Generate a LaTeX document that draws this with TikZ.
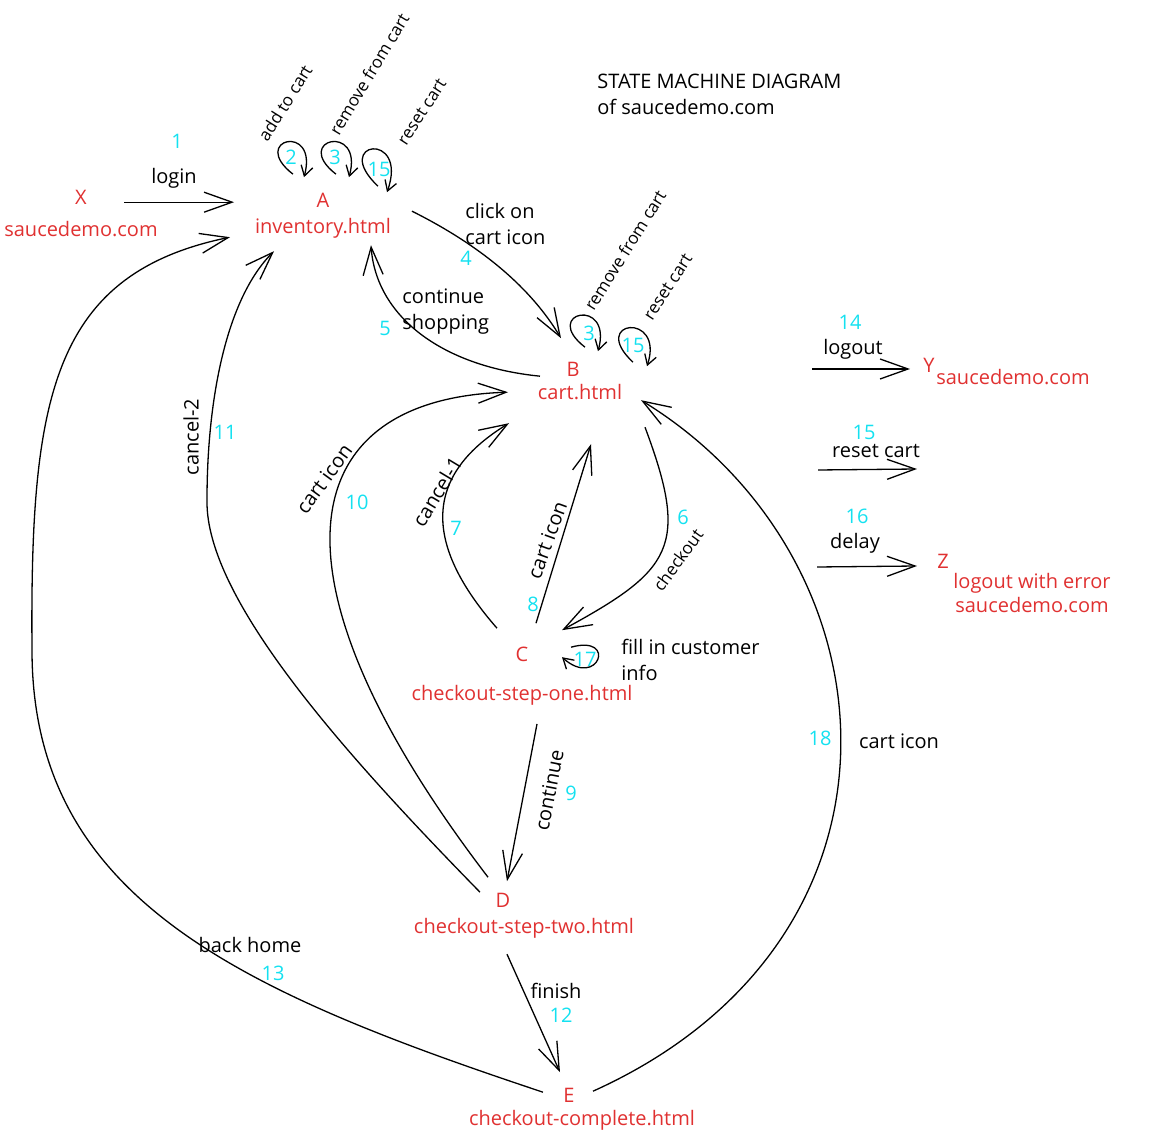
\documentclass[tikz,border=0pt]{standalone}
\usepackage{fontspec}
\setmainfont{Open Sans}
\usepackage{xcolor}
\usetikzlibrary{arrows.meta, positioning}

\definecolor{stred}{HTML}{E03131}
\definecolor{stcyan}{RGB}{20,225,240}

\begin{document}
\begin{tikzpicture}[x=0.5pt, y=-0.5pt,
    statebox/.style={text=stred, font=\fontsize{10}{12}\selectfont, inner sep=1pt, align=center},
    state/.style={statebox, text height=8pt, text depth=2.5pt},
    tag/.style={state},
    lbl/.style={font=\fontsize{10}{13}\selectfont, inner sep=1pt, align=left},
    small/.style={lbl, font=\fontsize{8.5}{10}\selectfont},
    num/.style={text=stcyan, font=\fontsize{10}{12}\selectfont, inner sep=1pt},
    arr/.style={-{Straight Barb[length=14pt, width=10pt]}, line width=0.65pt},
    selfarr/.style={-{Straight Barb[length=5pt, width=6pt]}, line width=0.65pt}]
    \useasboundingbox (0,0) rectangle (1152,1143);
    % Title
    \node[lbl, anchor=north west, inner sep=0pt] (title) at (597,74) {STATE MACHINE DIAGRAM\\of saucedemo.com};
    % States
    \node[state] (home) at (81,231) {saucedemo.com};
    \node[tag, above=3pt of home] (X) {X};
    \node[state] (inventory) at (323,228) {inventory.html};
    \node[tag, above=0pt of inventory] (A) {A};
    \node[state] (cart) at (580,394) {cart.html};
    \node[tag, above=-1.5pt of cart, xshift=-3.5pt] (B) {B};
    \node[state] (stepone) at (522,695) {checkout-step-one.html};
    \node[tag, above=6.5pt of stepone] (C) {C};
    \node[state] (steptwo) at (524,928) {checkout-step-two.html};
    \node[tag, above=0pt of steptwo, xshift=-10.5pt] (D) {D};
    \node[state] (complete) at (582,1120) {checkout-complete.html};
    \node[tag, above=-1.5pt of complete, xshift=-6.5pt] (E) {E};
    \node[tag] (Y) at (929,367) {Y};
    \node[state] (logout) at (1013,379) {saucedemo.com};
    \node[tag] (Z) at (943,563) {Z};
    \node[statebox] (error) at (1032,593) {logout with error\\saucedemo.com};
    % Free ends
    \coordinate (logout-from) at (812,369);
    \coordinate (reset-from) at (818,470);
    \coordinate (reset-to) at (917,469);
    \coordinate (delay-from) at (817,567);
    % Transitions from X and A
    \draw[arr] ([shift={(43,3)}]X.center) -- ([shift={(-89,0)}]A.center);
    \draw[selfarr] ([shift={(-30,-28)}]A.center) .. controls +(-45,-35) and +(15,-55) .. ([shift={(-19,-25)}]A.center);
    \draw[selfarr] ([shift={(13,-28)}]A.center) .. controls +(-45,-35) and +(15,-55) .. ([shift={(26,-25)}]A.center);
    \draw[selfarr] ([shift={(55,-16)}]A.center) .. controls +(-48,-45) and +(22,-62) .. ([shift={(64,-10)}]A.center);
    \draw[arr] ([shift={(89,9)}]A.center) .. controls +(70,35) and +(-30,-50) .. ([shift={(-12,-33)}]B.center);
    % Transitions from B
    \draw[arr] ([shift={(-33,5)}]B.center) .. controls +(-100,-10) and +(5,70) .. ([shift={(48,43)}]A.center);
    \draw[selfarr] ([shift={(12,-24)}]B.center) .. controls +(-45,-35) and +(15,-55) .. ([shift={(25,-20)}]B.center);
    \draw[selfarr] ([shift={(60,-9)}]B.center) .. controls +(-45,-42) and +(18,-55) .. ([shift={(74,-5)}]B.center);
    \draw[arr] ([shift={(72,56)}]B.center) .. controls +(45,120) and +(110,-60) .. ([shift={(40,-26)}]C.center);
    % Transitions from C
    \draw[arr] ([shift={(-25,-28)}]C.center) .. controls +(-70,-80) and +(-90,55) .. ([shift={(-64,52)}]B.center);
    \draw[arr] ([shift={(14,-33)}]C.center) -- ([shift={(18,73)}]B.center);
    \draw[selfarr] ([shift={(49,-9)}]C.center) .. controls +(47,-13) and +(36,32) .. ([shift={(40,1)}]C.center);
    \draw[arr] ([shift={(15,29)}]stepone.center) -- ([shift={(4,-21)}]D.center);
    % Transitions from D
    \draw[arr] ([shift={(-15,-25)}]D.center) .. controls +(-228,-298) and +(-218,7) .. ([shift={(-65,21)}]B.center);
    \draw[arr] ([shift={(-23,-10)}]D.center) .. controls +(-130,-133) and +(-2,100) .. (207,500)
        .. controls +(0,-100) and +(-48,48) .. ([shift={(-49,49)}]A.center);
    \draw[arr] ([shift={(4,52)}]D.center) -- ([shift={(-9,-25)}]E.center);
    % Transitions from E
    \draw[arr] ([shift={(-26,-5)}]E.center) .. controls +(-300,-100) and +(0,250) .. (32,650)
        .. controls +(-2,-250) and +(-179,37) .. ([shift={(-93,35)}]A.center);
    \draw[arr] ([shift={(24,-6)}]E.center) .. controls +(337,-152) and +(259,159) .. ([shift={(68,29)}]B.center);
    % Global events
    \draw[arr] (logout-from) -- ([shift={(-19,2)}]Y.center);
    \draw[arr] (reset-from) -- (reset-to);
    \draw[arr] (delay-from) -- ([shift={(-26,3)}]Z.center);
    % Labels
    \node[num] (n1) at (177,141) {1};
    \node[lbl] (l1) at (174,178) {login};
    \node[small, rotate=58] (l2) at (285,103) {add to cart};
    \node[small, rotate=59] (l3a) at (369,74) {remove from cart};
    \node[small, rotate=57] (l15a) at (422,112) {reset cart};
    \node[num] (n2) at (291,157) {2};
    \node[num] (n3a) at (335,157) {3};
    \node[num] (n15a) at (379,169) {15};
    \node[lbl, anchor=west] (l4) at (463,224) {click on\\cart icon};
    \node[num] (n4) at (466,258) {4};
    \node[lbl, anchor=west] (l5) at (400,312) {continue\\shopping};
    \node[num] (n5) at (385,328) {5};
    \node[small, rotate=58] (l3b) at (625,250) {remove from cart};
    \node[small, rotate=57] (l15b) at (668,287) {reset cart};
    \node[num] (n3b) at (589,333) {3};
    \node[num] (n15b) at (633,345) {15};
    \node[num] (n6) at (683,517) {6};
    \node[small, rotate=54] (l6) at (678,560) {checkout};
    \node[lbl, rotate=59] (l7) at (437,492) {cancel-1};
    \node[num] (n7) at (456,528) {7};
    \node[lbl, rotate=70] (l8) at (547,540) {cart icon};
    \node[num] (n8) at (533,604) {8};
    \node[num] (n17) at (585,659) {17};
    \node[lbl, anchor=west] (l17) at (619,660) {fill in customer\\info};
    \node[lbl, rotate=79] (l9) at (549,790) {continue};
    \node[num] (n9) at (571,793) {9};
    \node[lbl, rotate=54] (l10) at (324,479) {cart icon};
    \node[num] (n10) at (357,502) {10};
    \node[lbl, rotate=90] (l11) at (191,437) {cancel-2};
    \node[num] (n11) at (225,432) {11};
    \node[lbl] (l12) at (556,991) {finish};
    \node[num] (n12) at (561,1015) {12};
    \node[lbl] (l13) at (250,945) {back home};
    \node[num] (n13) at (273,973) {13};
    \node[num] (n18) at (820,738) {18};
    \node[lbl] (l18) at (899,741) {cart icon};
    \node[num] (n14) at (850,322) {14};
    \node[lbl] (l14) at (853,349) {logout};
    \node[num] (n15c) at (864,432) {15};
    \node[lbl] (l15c) at (876,451) {reset cart};
    \node[num] (n16) at (857,516) {16};
    \node[lbl] (l16) at (855,543) {delay};
\end{tikzpicture}
\end{document}
